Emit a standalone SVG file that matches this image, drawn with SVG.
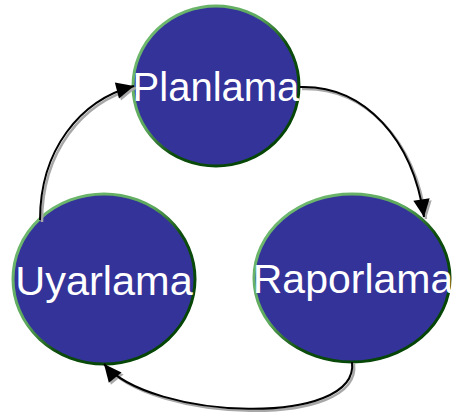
<svg xmlns="http://www.w3.org/2000/svg" width="452" height="418" viewBox="0 0 452 418">
<style>
.node{fill:#333399;stroke:url(#rim);stroke-width:3}
.lbl{font-family:"Liberation Sans",Arial,sans-serif;font-size:40px;fill:#ffffff;text-anchor:middle}
.edge{fill:none;stroke:#000;stroke-width:2}
.shadow{fill:none;stroke:#a8a8a8;stroke-width:2.5}
</style>
<defs>
<linearGradient id="rim" x1="0" y1="0" x2="1" y2="1">
<stop offset="0" stop-color="#78c078"/>
<stop offset="0.42" stop-color="#5ca85c"/>
<stop offset="0.58" stop-color="#0c4c0c"/>
<stop offset="1" stop-color="#004000"/>
</linearGradient>
<marker id="ah" markerUnits="userSpaceOnUse" markerWidth="20" markerHeight="20" viewBox="-16 -8 17 16" refX="0" refY="0" orient="auto">
<path d="M0,0 L-15,-7 L-15,7 Z" fill="#000"/>
</marker>
<marker id="ahs" markerUnits="userSpaceOnUse" markerWidth="20" markerHeight="20" viewBox="-16 -8 17 16" refX="0" refY="0" orient="auto">
<path d="M0,0 L-15,-7 L-15,7 Z" fill="#a8a8a8"/>
</marker>
</defs>
<g id="n-planlama">
<ellipse class="node" cx="216" cy="86" rx="83" ry="80"/>
<text class="lbl" x="216" y="101">Planlama</text>
</g>
<g id="n-raporlama">
<ellipse class="node" cx="352" cy="278" rx="98" ry="84"/>
<text class="lbl" x="353" y="293" style="font-size:41px">Raporlama</text>
</g>
<g id="n-uyarlama">
<ellipse class="node" cx="104" cy="279" rx="91" ry="85"/>
<text class="lbl" x="104" y="295" style="font-size:41.5px">Uyarlama</text>
</g>
<g id="connectors">
<g transform="translate(2,2)">
<path class="shadow" d="M300,87 C365,85 413,140 424,217" marker-end="url(#ahs)"/>
<path class="shadow" d="M352,362 C360,428 150,420 104,364" marker-end="url(#ahs)"/>
<path class="shadow" d="M40,220 C40,150 80,100 134,86" marker-end="url(#ahs)"/>
</g>
<path class="edge" d="M300,87 C365,85 413,140 424,217" marker-end="url(#ah)"/>
<path class="edge" d="M352,362 C360,428 150,420 104,364" marker-end="url(#ah)"/>
<path class="edge" d="M40,220 C40,150 80,100 134,86" marker-end="url(#ah)"/>
</g>
</svg>
